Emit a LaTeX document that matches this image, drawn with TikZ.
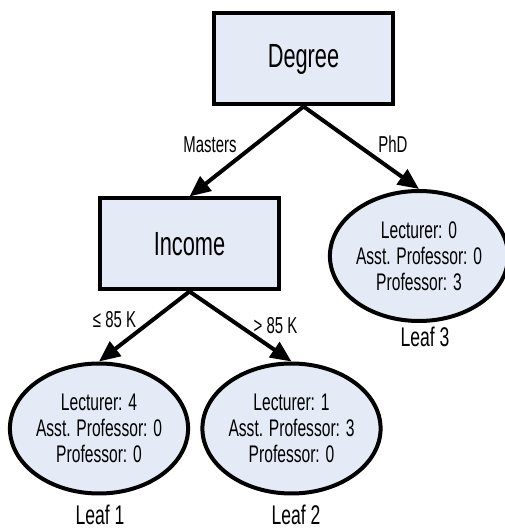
\documentclass[tikz,border=0pt]{standalone}
\usepackage{fontspec}
\setmainfont{Liberation Sans}[FakeStretch=0.65]
\usetikzlibrary{arrows.meta,shapes.geometric,positioning}

\definecolor{nodefill}{RGB}{228,234,246}

\begin{document}
\begin{tikzpicture}[x=1pt, y=1pt,
		testbox/.style = {draw, line width=4pt, fill=nodefill, minimum width=179pt, minimum height=91pt, inner sep=0pt, font=\fontsize{33.5}{36}\selectfont},
		leafnode/.style = {draw, ellipse, line width=4pt, fill=nodefill, minimum width=172pt, minimum height=130pt, inner sep=0pt, align=center, font=\fontsize{24}{26}\selectfont},
		leaflabel/.style = {inner sep=0pt, font=\fontsize{27}{30}\selectfont},
		edgelabel/.style = {inner sep=0pt, font=\fontsize{23}{25}\selectfont},
		branch/.style = {line width=4pt, -{Triangle[length=21pt, width=18pt]}}]
		\useasboundingbox (0,0) rectangle (504,532);
		
		\node[testbox] (degree) at (303.5,473) {Degree};
		\node[testbox] (income) at (189.5,288) {Income};
		\node[leafnode] (leaf3) at (419,276) {Lecturer: 0\\Asst. Professor: 0\\Professor: 3};
		\node[leafnode] (leaf1) at (99,103.5) {Lecturer: 4\\Asst. Professor: 0\\Professor: 0};
		\node[leafnode] (leaf2) at (291.5,103.5) {Lecturer: 1\\Asst. Professor: 3\\Professor: 0};
		
		\node[leaflabel] (name1) at (100,17) {Leaf 1};
		\node[leaflabel] (name2) at (296,17) {Leaf 2};
		\node[leaflabel] (name3) at (425,195) {Leaf 3};
		
		\draw[branch] (degree.south) -- (income.north); % masters
		\draw[branch] (degree.south) -- (leaf3.north); % phd
		\draw[branch] (income.south) -- (leaf1.north); % low income
		\draw[branch] (income.south) -- (leaf2.north); % high income
		
		\node[edgelabel] (masters) at (210,387.5) {Masters};
		\node[edgelabel] (phd) at (393,387.5) {PhD};
		\node[edgelabel] (low) at (114.5,212) {≤ 85 K};
		\node[edgelabel] (high) at (275.5,206.5) {> 85 K};
	\end{tikzpicture}
\end{document}
